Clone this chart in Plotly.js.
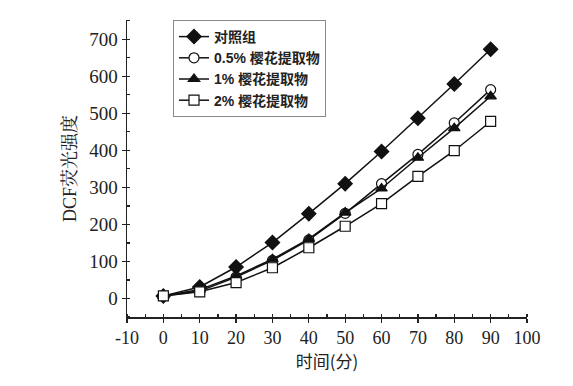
<!DOCTYPE html>
<html>
<head>
<meta charset="utf-8">
<script src="https://cdn.plot.ly/plotly-3.0.1.min.js"></script>
<style>html,body{margin:0;padding:0;background:#fff;}#chart{width:573px;height:386px;}</style>
</head>
<body>
<div id="chart"></div>
<script>
const time = [0, 10, 20, 30, 40, 50, 60, 70, 80, 90];
const seriesNames = ["对照组", "0.5% 樱花提取物", "1% 樱花提取物", "2% 樱花提取物"];
const control = [7, 31, 85, 151, 229, 310, 397, 487, 579, 673];
const extract05 = [7, 20, 58, 103, 158, 230, 310, 389, 474, 564];
const extract1 = [7, 24, 61, 106, 161, 232, 297, 380, 460, 546];
const extract2 = [7, 18, 43, 83, 137, 195, 256, 330, 399, 478];
const xTicks = [-10, 0, 10, 20, 30, 40, 50, 60, 70, 80, 90, 100];
const yTicks = [0, 100, 200, 300, 400, 500, 600, 700];

const symbols = ["diamond", "circle", "triangle-up", "square"];
const sizes = [11, 10, 10, 10];
const data = [control, extract05, extract1, extract2].map((ys, i) => ({
  x: time, y: ys, name: seriesNames[i], type: "scatter", mode: "lines+markers",
  line: {color: "#111", width: 1.5},
  marker: {symbol: symbols[i], size: sizes[i], color: i % 2 === 0 ? "#111" : "#fff",
           line: {color: "#111", width: 1.2}}
}));

const layout = {
  width: 573, height: 386,
  margin: {l: 127, r: 46, t: 20, b: 69},
  paper_bgcolor: "#fff", plot_bgcolor: "#fff",
  showlegend: true,
  legend: {x: 0.115, y: 1.0, xanchor: "left", yanchor: "top",
           bordercolor: "#888", borderwidth: 1, bgcolor: "#fff",
           font: {family: "Liberation Sans, Noto Sans CJK SC", size: 14, color: "#222", weight: 600},
           tracegroupgap: 0, itemwidth: 30},
  xaxis: {range: [-10, 100], tickvals: xTicks, ticktext: xTicks.map(String),
          showline: true, linecolor: "#222", linewidth: 1.5, zeroline: false, showgrid: false,
          ticks: "outside", ticklen: 4, tickcolor: "#222", tickwidth: 1.2,
          minor: {dtick: 5, tick0: 0, ticks: "inside", ticklen: 3, tickcolor: "#222", showgrid: false},
          tickfont: {family: "Liberation Serif", size: 18, color: "#222"},
          title: {text: "时间(分)", font: {family: "Noto Sans CJK SC", size: 17, color: "#222"}, standoff: 4}},
  yaxis: {range: [-50, 752], tickvals: yTicks, ticktext: yTicks.map(String),
          showline: true, linecolor: "#222", linewidth: 1.5, zeroline: false, showgrid: false,
          ticks: "outside", ticklen: 4, tickcolor: "#222", tickwidth: 1.2,
          minor: {dtick: 50, tick0: 0, ticks: "inside", ticklen: 3, tickcolor: "#222", showgrid: false},
          tickfont: {family: "Liberation Serif", size: 19, color: "#222"},
          title: {text: "DCF荧光强度", font: {family: "Liberation Serif, Noto Serif CJK SC, Noto Sans CJK SC", size: 18, color: "#222"}, standoff: 8}}
};

Plotly.newPlot("chart", data, layout, {displayModeBar: false, staticPlot: true});
</script>
</body>
</html>
